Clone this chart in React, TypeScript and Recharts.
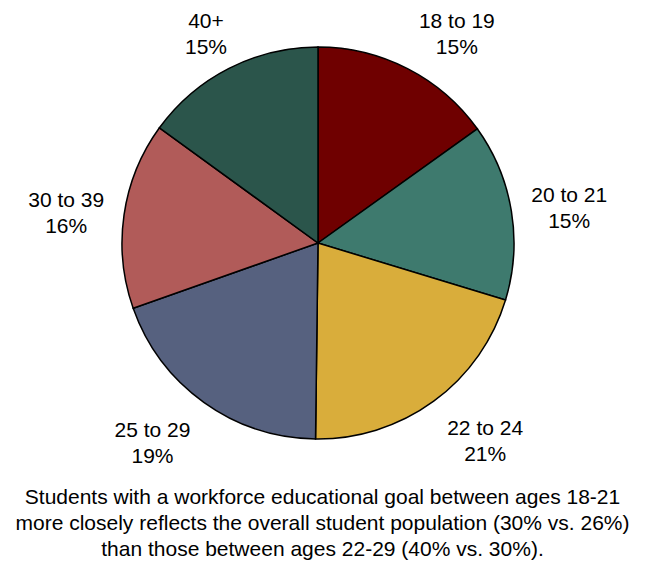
import { PieChart, Pie, Cell } from 'recharts'

const ageGroups = ['18 to 19', '20 to 21', '22 to 24', '25 to 29', '30 to 39', '40+']
const shares = [15.1, 14.6, 20.5, 19.4, 15.4, 15.0]
const shareLabels = ['15%', '15%', '21%', '19%', '16%', '15%']
const sliceColors = ['#6f0000', '#3e7a6e', '#d9ad3b', '#56617f', '#b15b59', '#2b554b']
const captionLines = [
  'Students with a workforce educational goal between ages 18-21',
  'more closely reflects the overall student population (30% vs. 26%)',
  'than those between ages 22-29 (40% vs. 30%).',
]

const RADIAN = Math.PI / 180
const FONT = '"Liberation Sans", Arial, sans-serif'

function renderLabel(props: any) {
  const { cx, cy, midAngle, outerRadius, index } = props
  const ux = Math.cos(-midAngle * RADIAN)
  const uy = Math.sin(-midAngle * RADIAN)
  const name = ageGroups[index]
  const pct = shareLabels[index]
  const w = Math.max(name.length, pct.length) * 10.5
  const r = outerRadius + 16
  const bx = cx + r * ux + Math.sign(ux) * (w / 2)
  const by = cy + r * uy + uy * 28
  return (
    <text x={bx} y={by} textAnchor="middle" fontFamily={FONT} fontSize={21} fill="#000">
      <tspan x={bx} dy={-1.5}>{name}</tspan>
      <tspan x={bx} dy={26}>{pct}</tspan>
    </text>
  )
}

export default function App() {
  const rows = ageGroups.map((g, i) => ({ name: g, value: shares[i] }))
  return (
    <div style={{ position: 'absolute', left: 0, top: 0, width: 645, height: 567, background: '#fff' }}>
      <PieChart width={645} height={567} margin={{ top: 0, right: 0, bottom: 0, left: 0 }}>
        <Pie
          data={rows}
          dataKey="value"
          cx={318}
          cy={243}
          outerRadius={196}
          startAngle={90}
          endAngle={-270}
          stroke="#000"
          strokeWidth={1.5}
          label={renderLabel}
          labelLine={false}
          isAnimationActive={false}
        >
          {rows.map((r, i) => (
            <Cell key={r.name} fill={sliceColors[i]} />
          ))}
        </Pie>
      </PieChart>
      <div
        style={{
          position: 'absolute',
          left: 0,
          top: 484,
          width: 645,
          textAlign: 'center',
          fontFamily: FONT,
          fontSize: 21,
          lineHeight: '26px',
          color: '#000',
        }}
      >
        {captionLines.map(l => (
          <div key={l} style={{ whiteSpace: 'nowrap' }}>{l}</div>
        ))}
      </div>
    </div>
  )
}
